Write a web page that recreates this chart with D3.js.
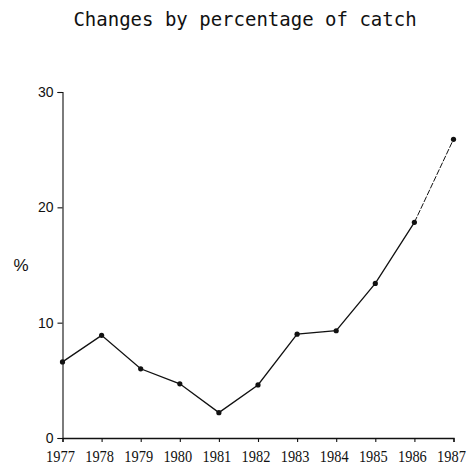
<!DOCTYPE html>
<html>
<head>
<meta charset="utf-8">
<script src="https://cdn.jsdelivr.net/npm/d3@7"></script>
<style>
  html, body { margin: 0; padding: 0; background: #fff; }
  svg { display: block; }
</style>
</head>
<body>
<svg id="chart" width="476" height="470"></svg>
<script>
// Percentage change of catch, by year
const years = [1977, 1978, 1979, 1980, 1981, 1982, 1983, 1984, 1985, 1986, 1987];
const percent = [6.6, 8.9, 6.0, 4.7, 2.2, 4.6, 9.0, 9.3, 13.4, 18.7, 25.9];
const yTicks = [0, 10, 20, 30];

const ink = "#111";
const svg = d3.select("#chart");

const x = d3.scalePoint().domain(years).range([62.5, 453.5]);
const y = d3.scaleLinear().domain([0, 30]).range([438, 92]);

// Title
svg.append("text")
  .attr("x", 245).attr("y", 26)
  .attr("text-anchor", "middle")
  .attr("font-family", "'DejaVu Sans Mono', monospace")
  .attr("font-size", 19)
  .attr("fill", ink)
  .text("Changes by percentage of catch");

// Y axis
const yAxis = svg.append("g")
  .attr("transform", `translate(${x(years[0])},0)`)
  .call(d3.axisLeft(y).tickValues(yTicks).tickSize(5).tickPadding(4).tickFormat(d3.format("d")));
yAxis.select(".domain").attr("stroke", ink).attr("stroke-width", 1.1);
yAxis.selectAll(".tick line").attr("stroke", ink).attr("stroke-width", 1.1);
yAxis.selectAll(".tick text")
  .attr("font-family", "'Liberation Sans', Arial, sans-serif")
  .attr("font-size", 14).attr("fill", ink);

// X axis (year labels drawn separately, slightly tall)
const xAxis = svg.append("g")
  .attr("transform", `translate(0,${y(0)})`)
  .call(d3.axisBottom(x).tickSize(4).tickFormat(""));
xAxis.select(".domain").attr("stroke", ink).attr("stroke-width", 1.3);
xAxis.selectAll(".tick line").attr("stroke", ink).attr("stroke-width", 1.1);

svg.append("g").selectAll("text")
  .data(years)
  .join("text")
  .attr("transform", d => `translate(${x(d) - 2},461.5) scale(1,1.15)`)
  .attr("text-anchor", "middle")
  .attr("font-family", "'Liberation Serif', 'Times New Roman', serif")
  .attr("font-size", 14.4)
  .attr("fill", ink)
  .text(d => d);

// "%" axis label
svg.append("text")
  .attr("x", 21).attr("y", 271)
  .attr("text-anchor", "middle")
  .attr("font-family", "'Liberation Sans', Arial, sans-serif")
  .attr("font-size", 17)
  .attr("fill", ink)
  .text("%");

// Line: solid through 1986, lighter broken stroke for the final year
const pts = years.map((yr, i) => ({ yr, v: percent[i] }));
const line = d3.line().x(d => x(d.yr)).y(d => y(d.v));

svg.append("path")
  .datum(pts.slice(0, pts.length - 1))
  .attr("d", line)
  .attr("fill", "none")
  .attr("stroke", ink)
  .attr("stroke-width", 1.3);

svg.append("path")
  .datum(pts.slice(pts.length - 2))
  .attr("d", line)
  .attr("fill", "none")
  .attr("stroke", ink)
  .attr("stroke-width", 1)
  .attr("stroke-dasharray", "6,1.5");

// Point markers
svg.append("g").selectAll("circle")
  .data(pts)
  .join("circle")
  .attr("cx", d => x(d.yr))
  .attr("cy", d => y(d.v))
  .attr("r", 2.6)
  .attr("fill", ink);
</script>
</body>
</html>
